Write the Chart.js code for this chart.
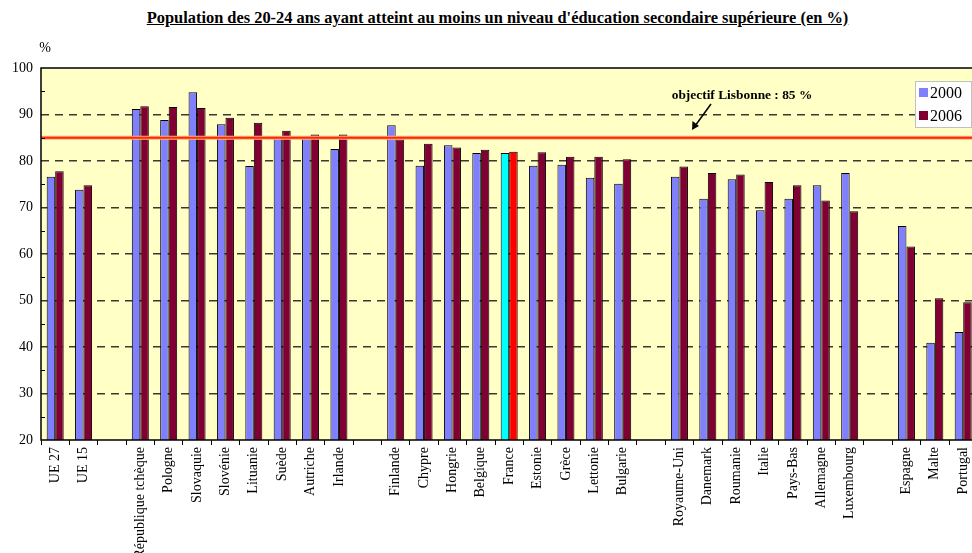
<!DOCTYPE html>
<html>
<head>
<meta charset="utf-8">
<script src="https://cdn.jsdelivr.net/npm/chart.js@4/dist/chart.umd.min.js"></script>
<style>
  body { margin: 0; width: 972px; height: 553px; overflow: hidden; background: #fff; position: relative; }
  #titre { position: absolute; top: 8px; left: 0; width: 995px; text-align: center;
           font: bold 16.4px "Liberation Serif", "Times New Roman", serif; text-decoration: underline; color: #000; }
  #graph { position: absolute; left: 0; top: 0; }
</style>
</head>
<body>
<div id="titre">Population des 20-24 ans ayant atteint au moins un niveau d'éducation secondaire supérieure (en %)</div>
<canvas id="graph" width="982" height="553"></canvas>
<script>
// données
const pays = ['UE 27', 'UE 15', '', 'République tchèque', 'Pologne', 'Slovaquie', 'Slovénie', 'Lituanie', 'Suède', 'Autriche', 'Irlande', '',
  'Finlande', 'Chypre', 'Hongrie', 'Belgique', 'France', 'Estonie', 'Grèce', 'Lettonie', 'Bulgarie', '',
  'Royaume-Uni', 'Danemark', 'Roumanie', 'Italie', 'Pays-Bas', 'Allemagne', 'Luxembourg', '', 'Espagne', 'Malte', 'Portugal'];
const annees = ['2000', '2006'];
const val2000 = [76.6, 73.8, null, 91.2, 88.8, 94.8, 87.9, 78.9, 85.1, 85.0, 82.6, null,
  87.7, 79.0, 83.4, 81.7, 81.7, 79.0, 79.2, 76.4, 75.1, null,
  76.6, 71.9, 76.1, 69.4, 71.9, 74.8, 77.4, null, 66.0, 40.9, 43.2];
const val2006 = [77.8, 74.8, null, 91.8, 91.6, 91.4, 89.3, 88.2, 86.5, 85.7, 85.7, null,
  84.7, 83.7, 82.9, 82.4, 82.0, 81.9, 80.9, 80.9, 80.4, null,
  78.8, 77.4, 77.1, 75.5, 74.8, 71.5, 69.2, null, 61.6, 50.5, 49.6];
const ticksY = [20, 30, 40, 50, 60, 70, 80, 90, 100];
const objectif = 85;

// couleurs
const bleu = '#8080FF', bordeaux = '#800034';
const couleurs2000 = pays.map(p => p === 'France' ? '#00FFFF' : bleu);
const couleurs2006 = pays.map(p => p === 'France' ? '#FF0000' : bordeaux);
const serif = '"Liberation Serif", "Times New Roman", serif';

// fond jaune + cadre + petites graduations
const fondCadre = {
  id: 'fondCadre',
  beforeDraw(chart) {
    const { ctx, chartArea: a } = chart;
    ctx.save();
    ctx.fillStyle = '#FFFFC6';
    ctx.fillRect(a.left, a.top, a.right - a.left, a.bottom - a.top);
    ctx.restore();
  },
  afterDraw(chart) {
    const { ctx, chartArea: a, scales } = chart;
    ctx.save();
    ctx.strokeStyle = '#000';
    ctx.lineWidth = 1.5;
    ctx.beginPath();
    ctx.moveTo(a.right + 5, a.top);
    ctx.lineTo(a.left, a.top);
    ctx.lineTo(a.left, a.bottom);
    ctx.lineTo(a.right + 5, a.bottom);
    ctx.stroke();
    ctx.lineWidth = 1;
    for (let v = 25; v < 100; v += 10) {
      const y = Math.round(scales.y.getPixelForValue(v)) + 0.5;
      ctx.beginPath();
      ctx.moveTo(a.left, y);
      ctx.lineTo(a.left + 4, y);
      ctx.stroke();
    }
    // "%"
    ctx.fillStyle = '#000';
    ctx.font = '14px ' + serif;
    ctx.textAlign = 'center';
    ctx.textBaseline = 'alphabetic';
    ctx.fillText('%', 45, 52);
    ctx.restore();
  }
};

// ligne objectif Lisbonne
const ligneObjectif = {
  id: 'ligneObjectif',
  afterDatasetsDraw(chart) {
    const { ctx, chartArea: a, scales } = chart;
    const y = scales.y.getPixelForValue(objectif);
    ctx.save();
    ctx.strokeStyle = '#FFB080';
    ctx.lineWidth = 4;
    ctx.beginPath(); ctx.moveTo(a.left, y); ctx.lineTo(a.right, y); ctx.stroke();
    ctx.strokeStyle = '#FF2800';
    ctx.lineWidth = 2.2;
    ctx.beginPath(); ctx.moveTo(a.left, y); ctx.lineTo(a.right, y); ctx.stroke();

    ctx.fillStyle = '#000';
    ctx.font = 'bold 13.4px ' + serif;
    ctx.textAlign = 'center';
    ctx.fillText('objectif Lisbonne : ' + objectif + ' %', 742, 99);

    // flèche
    ctx.strokeStyle = '#000';
    ctx.lineWidth = 1.5;
    ctx.beginPath(); ctx.moveTo(711, 104); ctx.lineTo(695, 126); ctx.stroke();
    ctx.beginPath();
    ctx.moveTo(692, 130);
    ctx.lineTo(692.5, 121);
    ctx.lineTo(699, 126);
    ctx.closePath();
    ctx.fill();
    ctx.restore();
  }
};

// légende dans le graphique
const legendeInterne = {
  id: 'legendeInterne',
  afterDraw(chart) {
    const ctx = chart.ctx;
    const x = 915, y = 81, w = 56, h = 46;
    ctx.save();
    ctx.fillStyle = '#fff';
    ctx.fillRect(x, y, w, h);
    ctx.strokeStyle = '#c0c0c0';
    ctx.lineWidth = 1;
    ctx.strokeRect(x + 0.5, y + 0.5, w, h);
    ctx.font = '16px ' + serif;
    ctx.textBaseline = 'middle';
    chart.data.datasets.forEach((ds, i) => {
      const yy = y + 12 + i * 23;
      ctx.fillStyle = i === 0 ? bleu : bordeaux;
      ctx.fillRect(x + 4, yy - 5, 9, 9);
      ctx.fillStyle = '#000';
      ctx.fillText(ds.label, x + 15, yy + 1);
    });
    ctx.restore();
  }
};

new Chart(document.getElementById('graph'), {
  type: 'bar',
  data: {
    labels: pays,
    datasets: [
      { label: annees[0], data: val2000, backgroundColor: couleurs2000, borderColor: '#000', borderWidth: 1 },
      { label: annees[1], data: val2006, backgroundColor: couleurs2006, borderColor: '#000', borderWidth: 1 }
    ]
  },
  options: {
    responsive: false,
    animation: false,
    layout: { padding: { top: 68, left: 0, right: 0, bottom: 0 } },
    datasets: { bar: { categoryPercentage: 0.6, barPercentage: 1.0 } },
    plugins: { legend: { display: false }, tooltip: { enabled: false } },
    scales: {
      x: {
        grid: { drawOnChartArea: false, drawTicks: true, tickLength: 5, color: '#000', offset: true },
        border: { display: false },
        ticks: {
          autoSkip: false, maxRotation: 90, minRotation: 90, padding: 2,
          color: '#000', font: { family: serif, size: 14 }
        },
        afterFit(scale) { scale.height = 113; }
      },
      y: {
        min: 20, max: 100,
        afterBuildTicks(scale) { scale.ticks = ticksY.map(v => ({ value: v })); },
        grid: {
          drawTicks: false,
          lineWidth: 1.5,
          color: c => (c.tick && (c.tick.value === 20 || c.tick.value === 100)) ? 'rgba(0,0,0,0)' : '#3a3a30'
        },
        border: { display: false, dash: [8, 6] },
        ticks: { padding: 8, color: '#000', font: { family: serif, size: 14 } },
        afterFit(scale) { scale.width = 41; }
      }
    }
  },
  plugins: [fondCadre, ligneObjectif, legendeInterne]
});
</script>
</body>
</html>
